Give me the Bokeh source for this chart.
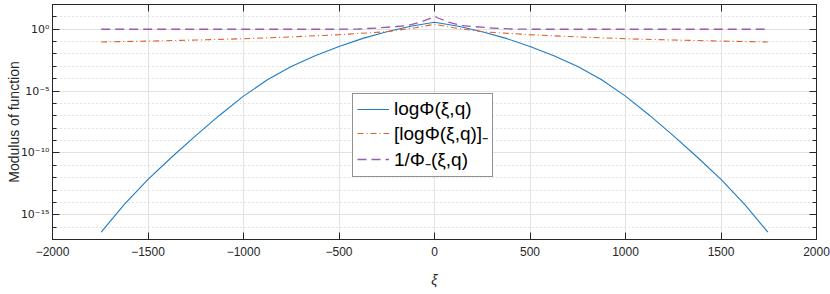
from bokeh.plotting import figure
from bokeh.models import (FixedTicker, LinearAxis, LogAxis, Legend, LegendItem, Range1d,
                          CustomLabelingPolicy)
from bokeh.embed import file_html
from bokeh.resources import INLINE

# ---- data (values given as log10 exponents) ----
xi_blue = [-1745, -1625, -1500, -1375, -1250, -1125, -1000, -875, -750, -625, -500, -375, -250, -125, 0,
           125, 250, 375, 500, 625, 750, 875, 1000, 1125, 1250, 1375, 1500, 1625, 1745]
blue_exp = [-16.4, -14.18, -12.14, -10.33, -8.60, -6.95, -5.41, -4.09, -3.01, -2.14, -1.40, -0.74, -0.20, 0.245, 0.57,
            0.245, -0.20, -0.74, -1.40, -2.14, -3.01, -4.09, -5.41, -6.95, -8.60, -10.33, -12.14, -14.18, -16.4]

xi_orange = [-1745, -1500, -1250, -1000, -750, -500, -250, -100, 0, 100, 250, 500, 750, 1000, 1250, 1500, 1745]
orange_exp = [-1.03, -0.96, -0.87, -0.77, -0.62, -0.44, -0.20, 0.12, 0.40, 0.12, -0.20, -0.44, -0.62, -0.77, -0.87, -0.96, -1.03]

xi_purple = [-1745, -1000, -500, -400, -300, -200, -143, -73, -15, 0, 15, 73, 143, 200, 300, 400, 500, 1000, 1745]
purple_exp = [0.0, 0.0, 0.0, 0.02, 0.10, 0.22, 0.30, 0.58, 0.93, 1.05, 0.93, 0.58, 0.30, 0.22, 0.10, 0.02, 0.0, 0.0, 0.0]

x_ticks = [-2000, -1500, -1000, -500, 0, 500, 1000, 1500, 2000]
y_ticks = [1e-15, 1e-10, 1e-5, 1e0]
y_tick_labels = ["10⁻¹⁵", "10⁻¹⁰", "10⁻⁵", "10⁰"]
y_minor = [10.0 ** k for k in range(-17, 3)]

labels = ["logΦ(ξ,q)", "[logΦ(ξ,q)]₋", "1/Φ₋(ξ,q)"]
y_title = "Modulus of function"
x_title = "ξ"

blue_vals = [10.0 ** e for e in blue_exp]
orange_vals = [10.0 ** e for e in orange_exp]
purple_vals = [10.0 ** e for e in purple_exp]

FONT = "Liberation Sans"
AX = "#262626"

p = figure(width=830, height=294, y_axis_type="log",
           x_range=Range1d(-2000, 2000), y_range=Range1d(1e-17, 1e2),
           output_backend="svg", toolbar_location=None,
           min_border_left=52, min_border_right=14, min_border_top=0, min_border_bottom=55)
p.outline_line_color = AX
p.background_fill_color = "white"

r1 = p.line(xi_blue, blue_vals, line_color="#1f7cc4", line_width=1.1)
r2 = p.line(xi_orange, orange_vals, line_color="#dd5f24", line_width=1.1, line_dash="6 3 1 3")
r3 = p.line(xi_purple, purple_vals, line_color="#9a5aae", line_width=1.3, line_dash="9 5")

# axes
xt = FixedTicker(ticks=x_ticks)
yt = FixedTicker(ticks=y_ticks, minor_ticks=y_minor)
p.xaxis.ticker = xt
p.yaxis.ticker = yt
p.yaxis.major_label_overrides = dict(zip(y_ticks, y_tick_labels))

for ax in (p.xaxis[0], p.yaxis[0]):
    ax.axis_line_color = AX
    ax.major_tick_line_color = AX
    ax.minor_tick_line_color = AX
    ax.major_tick_in = 7
    ax.major_tick_out = 0
    ax.minor_tick_in = 4
    ax.minor_tick_out = 0
    ax.major_label_text_font = FONT
    ax.major_label_text_font_size = "12px"
    ax.major_label_text_color = AX
    ax.axis_label_text_font = FONT
    ax.axis_label_text_font_size = "14px"
    ax.axis_label_text_color = AX
    ax.axis_label_text_font_style = "normal"

p.yaxis.major_label_text_font = "DejaVu Sans"
p.yaxis.major_label_text_font_size = "11px"
p.yaxis.major_label_standoff = 3
p.yaxis.axis_label = y_title
p.yaxis.axis_label_standoff = -4
p.xaxis.major_label_standoff = 7
p.xaxis.axis_label = x_title
p.xaxis.axis_label_text_font_style = "italic"
p.xaxis.axis_label_standoff = 13

hide_code = """
const out = []
for (const i of indices) out.push(i)
for (const i of out) indices.unset(i)
return indices
"""
top = LinearAxis(ticker=xt, major_label_text_font_size="1px", major_label_standoff=0,
                 major_label_policy=CustomLabelingPolicy(code=hide_code),
                 major_tick_in=7, major_tick_out=0, axis_line_color=AX, major_tick_line_color=AX,
                 minor_tick_line_color=None)
right = LogAxis(ticker=yt, major_label_text_font_size="1px", major_label_standoff=0,
                major_label_policy=CustomLabelingPolicy(code=hide_code),
                major_tick_in=7, major_tick_out=0, minor_tick_in=4, minor_tick_out=0,
                axis_line_color=AX, major_tick_line_color=AX, minor_tick_line_color=AX)
p.add_layout(top, "above")
p.add_layout(right, "right")

# grids
p.xgrid.grid_line_color = "#e2e2e2"
p.ygrid.grid_line_color = "#e2e2e2"
p.ygrid.minor_grid_line_color = "#c8c8c8"
p.ygrid.minor_grid_line_dash = "1 3"

legend = Legend(items=[LegendItem(label=labels[0], renderers=[r1]),
                       LegendItem(label=labels[1], renderers=[r2]),
                       LegendItem(label=labels[2], renderers=[r3])],
                location=(300, 62))
legend.border_line_color = AX
legend.border_line_width = 1
legend.background_fill_color = "white"
legend.background_fill_alpha = 1
legend.label_text_font = FONT
legend.label_text_font_size = "19px"
legend.label_text_color = "black"
legend.glyph_width = 32
legend.glyph_height = 20
legend.label_height = 20
legend.spacing = 0
legend.padding = 4
legend.margin = 0
legend.label_standoff = 5
p.add_layout(legend, "center")

open("out.html", "w").write(file_html(p, INLINE))
